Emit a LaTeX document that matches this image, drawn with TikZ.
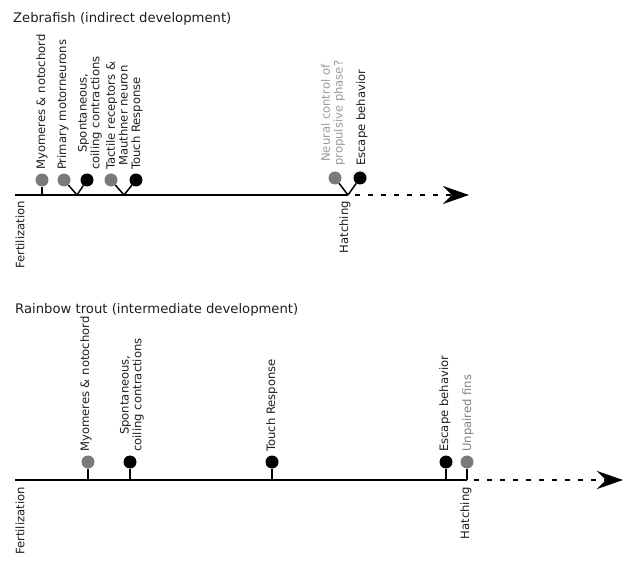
\documentclass[tikz,border=0pt]{standalone}
\usepackage{fontspec}
\setmainfont{DejaVu Sans}
\usetikzlibrary{arrows.meta}
\definecolor{dotgray}{HTML}{7A7A7A}
\definecolor{txtdark}{HTML}{1E1E1E}
\definecolor{txtlight}{HTML}{9A9A9A}
\definecolor{txtmid}{HTML}{808080}
\tikzset{
  graydot/.style={circle, fill=dotgray, minimum size=13pt, inner sep=0pt},
  blackdot/.style={circle, fill=black, minimum size=13pt, inner sep=0pt},
  stem/.style={line width=1.5pt, black},
  timeline/.style={line width=2pt, black},
  dashline/.style={line width=2.4pt, black, dash pattern=on 5pt off 8pt, -{Stealth[length=26pt,width=18pt,inset=9pt]}},
  lbl/.style={rotate=90, inner sep=0pt, align=center, text=txtdark, font=\fontsize{11.6}{12.8}\selectfont},
  ttl/.style={anchor=base west, inner sep=0pt, text=txtdark, font=\fontsize{13.2}{15}\selectfont}
}
\begin{document}
\begin{tikzpicture}[x=1pt,y=-1pt]
\useasboundingbox (0,0) rectangle (624,564);
% ---------------- Zebrafish ----------------
\node[ttl] (zt) at (13,23) {Zebrafish (indirect development)};
\coordinate (zs) at (15,195);
\coordinate (zh) at (348,195);
\coordinate (ze) at (469,195);
\coordinate (zj1) at (42,195);
\coordinate (zj2) at (77,195);
\coordinate (zj3) at (124,195);
\node[graydot]  (z1) at (42,180) {};
\node[graydot]  (z2) at (64,180) {};
\node[blackdot] (z3) at (87,180) {};
\node[graydot]  (z4) at (111,180) {};
\node[blackdot] (z5) at (136,180) {};
\node[graydot]  (z6) at (335,178) {};
\node[blackdot] (z7) at (360,178) {};
\draw[stem] (zj1) -- (z1);
\draw[stem] (zj2) -- (z2);
\draw[stem] (zj2) -- (z3);
\draw[stem] (zj3) -- (z4);
\draw[stem] (zj3) -- (z5);
\draw[stem] (zh) -- (z6);
\draw[stem] (zh) -- (z7);
\draw[timeline] (zs) -- (zh);
\draw[dashline, dash phase=6pt] (zh) -- (ze);
\node[lbl, anchor=west] (zl1) at (42,170) {Myomeres \& notochord};
\node[lbl, anchor=west] (zl2) at (63,170) {Primary motorneurons};
\node[lbl, anchor=west] (zl3) at (90,170) {Spontaneous,\\coiling contractions};
\node[lbl, anchor=west] (zl4) at (117,170) {Tactile receptors \&\\Mauthner neuron};
\node[lbl, anchor=west] (zl5) at (137,170) {Touch Response};
\node[lbl, anchor=west, text=txtlight] (zl6) at (333,166) {Neural control of\\propulsive phase?};
\node[lbl, anchor=west] (zl7) at (362,166) {Escape behavior};
\node[lbl, anchor=east] (zf) at (20,201) {Fertilization};
\node[lbl, anchor=east] (zhl) at (345,201) {Hatching};
% ---------------- Rainbow trout ----------------
\node[ttl] (rt) at (15,313) {Rainbow trout (intermediate development)};
\coordinate (rs) at (15,480);
\coordinate (rh) at (467,480);
\coordinate (re) at (623,480);
\coordinate (rj1) at (88,480);
\coordinate (rj2) at (130,480);
\coordinate (rj3) at (272,480);
\coordinate (rj4) at (446,480);
\node[graydot]  (r1) at (88,462) {};
\node[blackdot] (r2) at (130,462) {};
\node[blackdot] (r3) at (272,462) {};
\node[blackdot] (r4) at (446,462) {};
\node[graydot]  (r5) at (467,462) {};
\draw[stem] (rj1) -- (r1);
\draw[stem] (rj2) -- (r2);
\draw[stem] (rj3) -- (r3);
\draw[stem] (rj4) -- (r4);
\draw[stem] (rh) -- (r5);
\draw[timeline] (rs) -- (rh);
\draw[dashline, dash phase=6pt] (rh) -- (re);
\node[lbl, anchor=west] (rl1) at (86,452) {Myomeres \& notochord};
\node[lbl, anchor=west] (rl2) at (132,452) {Spontaneous,\\coiling contractions};
\node[lbl, anchor=west] (rl3) at (272,452) {Touch Response};
\node[lbl, anchor=west] (rl4) at (445,452) {Escape behavior};
\node[lbl, anchor=west, text=txtmid] (rl5) at (468,452) {Unpaired fins};
\node[lbl, anchor=east] (rf) at (20,487) {Fertilization};
\node[lbl, anchor=east] (rhl) at (466,487) {Hatching};
\end{tikzpicture}
\end{document}
